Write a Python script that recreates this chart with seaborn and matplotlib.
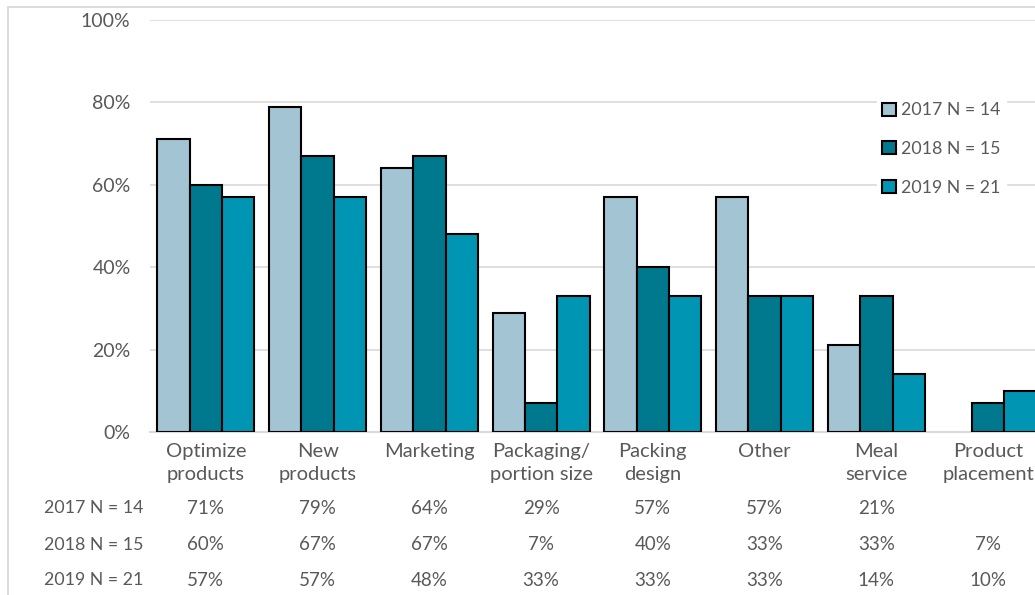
import matplotlib
matplotlib.use("Agg")
import matplotlib.pyplot as plt
from matplotlib.patches import Rectangle, Patch
import seaborn as sns
import pandas as pd

categories = ["Optimize\nproducts", "New\nproducts", "Marketing", "Packaging/\nportion size",
              "Packing\ndesign", "Other", "Meal\nservice", "Product\nplacement"]
series = ["2017 N = 14", "2018 N = 15", "2019 N = 21"]
values_2017 = [71, 79, 64, 29, 57, 57, 21, 0]
values_2018 = [60, 67, 67, 7, 40, 33, 33, 7]
values_2019 = [57, 57, 48, 33, 33, 33, 14, 10]
table_2017 = ["71%", "79%", "64%", "29%", "57%", "57%", "21%", ""]
table_2018 = ["60%", "67%", "67%", "7%", "40%", "33%", "33%", "7%"]
table_2019 = ["57%", "57%", "48%", "33%", "33%", "33%", "14%", "10%"]
colors = ["#A3C4D3", "#00788D", "#0096B3"]

sns.set_theme(style="white")
plt.rcParams["font.family"] = ["Lato", "DejaVu Sans"]
text_color = "#595959"
fs_cat = 14.5
fs_tick = 14
fs_name = 12.8
fs_val = 13.5

rows = []
for s, vals in zip(series, [values_2017, values_2018, values_2019]):
    for c, v in zip(categories, vals):
        rows.append({"category": c, "series": s, "value": v})
df = pd.DataFrame(rows)

W, H = 1035, 595
fig = plt.figure(figsize=(W / 100, H / 100), dpi=100)
left, right, top, bottom = 150, 1044, 20, 432
ax = fig.add_axes([left / W, 1 - bottom / H, (right - left) / W, (bottom - top) / H])

sns.barplot(data=df, x="category", y="value", hue="series", palette=colors,
            saturation=1, width=0.87, edgecolor="black", linewidth=1.5, ax=ax,
            legend=False, zorder=3, errorbar=None)

# zero-height bars leave no visible outline
for p in ax.patches:
    if p.get_height() == 0:
        p.set_linewidth(0)

ax.set_ylim(0, 100)
ax.set_xlim(-0.5, len(categories) - 0.5)
ax.set_yticks([0, 20, 40, 60, 80, 100])
ax.set_yticklabels([f"{t}%" for t in [0, 20, 40, 60, 80, 100]])
ax.yaxis.grid(True, color="#D9D9D9", linewidth=1.2, zorder=0)
ax.set_axisbelow(True)
for side in ["top", "right", "left"]:
    ax.spines[side].set_visible(False)
ax.spines["bottom"].set_color("#D9D9D9")
ax.spines["bottom"].set_linewidth(1.5)
ax.tick_params(axis="y", length=0, pad=14, labelsize=fs_tick, labelcolor=text_color)
ax.tick_params(axis="x", length=0, pad=8, labelsize=fs_cat, labelcolor=text_color)
ax.set_xlabel("")
ax.set_ylabel("")
for lbl in ax.get_xticklabels():
    lbl.set_linespacing(1.45)

# data table under the axis
table_rows = [(508, table_2017), (545, table_2018), (580, table_2019)]
for (ypix, labels), name in zip(table_rows, series):
    yfrac = 1 - ypix / H
    fig.text(143 / W, yfrac, name, ha="right", va="center", fontsize=fs_name, color=text_color)
    for i, t in enumerate(labels):
        xfig = (left + (i + 0.5) * (right - left) / len(categories)) / W
        fig.text(xfig, yfrac, t, ha="center", va="center", fontsize=fs_val, color=text_color)

handles = [Patch(facecolor=c, edgecolor="black", linewidth=1.5) for c in colors]
leg = fig.legend(handles, series, loc="upper left", bbox_to_anchor=(868 / W, 1 - 88 / H),
                 frameon=True, fontsize=fs_name, handlelength=0.75, handleheight=0.75,
                 handletextpad=0.3, labelspacing=1.28, borderpad=0.3)
leg.get_frame().set_edgecolor("white")
leg.get_frame().set_facecolor("white")
leg.get_frame().set_alpha(1)
for t in leg.get_texts():
    t.set_color(text_color)

# outer chart border
fig.patches.append(Rectangle((8 / W, -0.1), 1.2, 1 - 7 / H + 0.1, transform=fig.transFigure,
                             fill=False, edgecolor="#D9D9D9", linewidth=1.3))

fig.savefig("out.png", dpi=100)
